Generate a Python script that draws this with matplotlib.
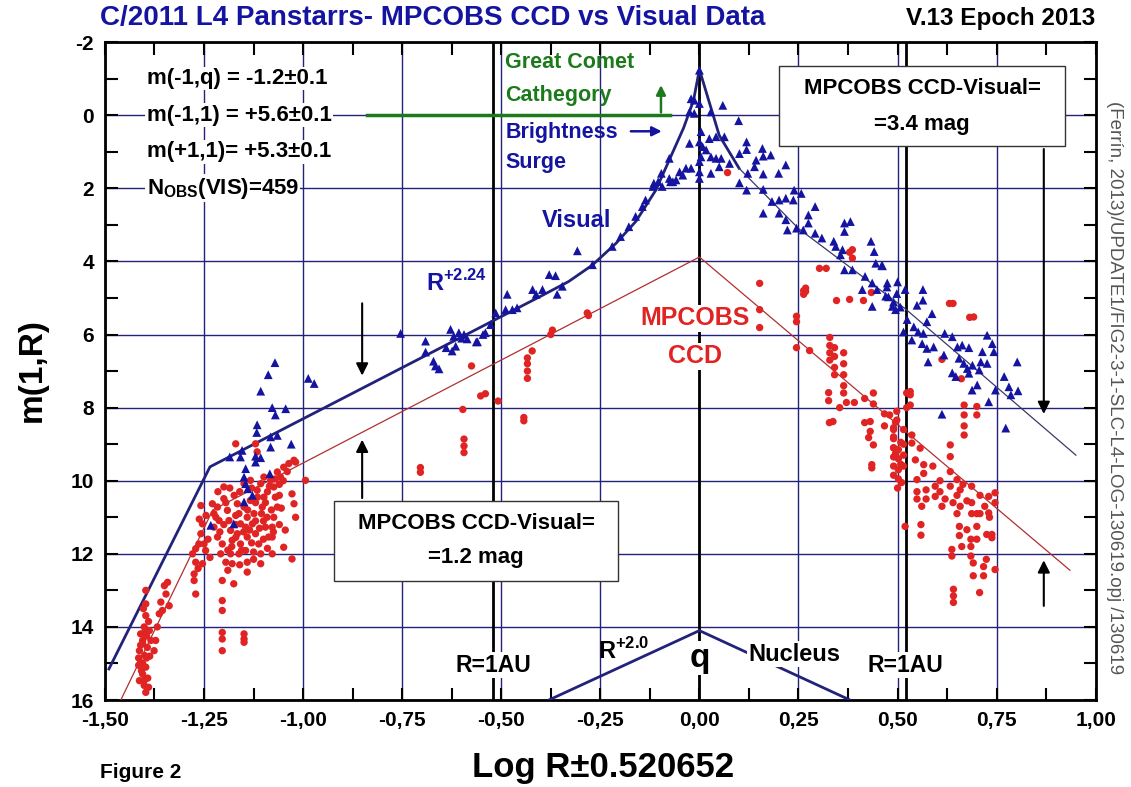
import matplotlib.pyplot as plt
from matplotlib.patches import Rectangle
from matplotlib.ticker import FuncFormatter, MultipleLocator

plt.rcParams['font.family'] = ['Liberation Sans', 'DejaVu Sans']
plt.rcParams['axes.unicode_minus'] = False

# Visual magnitudes (blue triangles), (log R, m)
vis_left = [(-1.107, 7.55), (-1.078, 8.0), (-1.044, 8.03), (-1.07, 8.2), (-1.116, 8.47),
            (-1.117, 8.68), (-1.082, 8.8), (-1.065, 8.76), (-1.082, 9.08), (-1.03, 9.0),
            (-1.185, 9.35), (-1.154, 9.17), (-1.158, 9.35), (-1.12, 9.33), (-1.107, 9.37),
            (-1.12, 9.49), (-1.145, 9.67), (-1.149, 9.9), (-1.145, 10.08), (-1.14, 10.22),
            (-1.128, 10.4), (-1.149, 10.58), (-1.084, 9.81), (-1.233, 11.22), (-1.175, 11.18),
            (-1.071, 6.77), (-1.088, 7.1), (-0.987, 7.2), (-0.972, 7.34)]
vis_mid = [(-0.754, 5.97), (-0.691, 6.18), (-0.691, 6.48), (-0.671, 6.73), (-0.666, 6.86),
           (-0.657, 6.94), (-0.628, 5.86), (-0.62, 6.05), (-0.607, 5.95), (-0.594, 6.0),
           (-0.586, 6.12), (-0.615, 6.32), (-0.624, 6.45), (-0.56, 6.2), (-0.54, 5.95),
           (-0.527, 5.73), (-0.514, 5.41), (-0.489, 5.32), (-0.472, 5.32), (-0.46, 5.27),
           (-0.485, 4.9), (-0.421, 4.77), (-0.412, 4.9), (-0.396, 4.77), (-0.379, 4.36),
           (-0.363, 4.39), (-0.346, 4.68), (-0.359, 4.9), (-0.308, 3.71), (-0.27, 4.09),
           (-0.639, 6.36), (-0.600, 6.1), (-0.546, 6.0), (-0.563, 6.2)]
vis_peak = [(-0.22, 3.59), (-0.199, 3.32), (-0.178, 3.05), (-0.161, 2.77), (-0.144, 2.5),
            (-0.136, 2.32), (-0.115, 1.86), (-0.094, 1.95), (-0.073, 1.82), (-0.117, 1.95),
            (-0.104, 1.82), (-0.096, 1.59), (-0.076, 1.18), (-0.076, 1.73), (-0.067, 1.82),
            (-0.059, 1.77), (-0.05, 1.55), (-0.042, 1.64), (-0.034, 1.45), (-0.021, 1.45),
            (0.0, -1.23), (-0.021, -0.45), (-0.013, -0.41), (0.0, -0.32), (-0.025, -0.09),
            (-0.013, -0.05), (0.029, -0.09), (0.059, -0.27), (0.099, 0.15), (0.004, 0.45),
            (0.025, 0.64), (0.042, 0.59), (0.063, 0.59), (-0.025, 0.77), (0.0, 0.73),
            (0.008, 0.86), (0.017, 0.95), (0.029, 1.14), (0.042, 1.18), (0.055, 1.18),
            (0.004, 1.14), (0.0, 1.27), (0.05, 1.41), (0.029, 1.59), (0.076, 1.32),
            (0.0, 1.73), (0.0, 1.55)]
vis_right = [(0.101, 1.05), (0.119, 0.73), (0.119, 0.94), (0.143, 1.23), (0.159, 0.91),
             (0.18, 1.09), (0.161, 1.12), (0.139, 1.41), (0.161, 1.61), (0.218, 1.36),
             (0.2, 1.59), (0.122, 1.59), (0.101, 1.85), (0.119, 2.05), (0.161, 2.03),
             (0.183, 2.36), (0.201, 2.32), (0.218, 2.27), (0.237, 2.32), (0.239, 2.05),
             (0.257, 2.14), (0.161, 2.68), (0.201, 2.68), (0.218, 2.86), (0.222, 3.14),
             (0.245, 3.09), (0.262, 3.14), (0.275, 2.95), (0.292, 2.5), (0.275, 2.73),
             (0.292, 3.23), (0.309, 3.36), (0.339, 3.45), (0.344, 3.59), (0.361, 3.68),
             (0.366, 2.95), (0.381, 2.91), (0.366, 3.18), (0.356, 3.82), (0.366, 4.23),
             (0.386, 4.23), (0.433, 3.45), (0.441, 3.73), (0.445, 4.05), (0.462, 4.12),
             (0.418, 4.41), (0.436, 4.59), (0.448, 4.77), (0.47, 4.95), (0.487, 5.23),
             (0.495, 5.32), (0.436, 5.23), (0.411, 4.77), (0.474, 4.59)]
vis_tail = [(0.46, 4.11), (0.5, 4.56), (0.473, 4.7), (0.477, 4.97), (0.498, 4.88),
            (0.49, 5.11), (0.507, 5.25), (0.519, 4.77), (0.564, 4.77), (0.564, 5.06),
            (0.549, 5.2), (0.587, 5.43), (0.524, 5.59), (0.515, 5.93), (0.541, 5.79),
            (0.552, 5.93), (0.565, 5.97), (0.574, 5.65), (0.536, 6.15), (0.562, 6.25),
            (0.574, 6.38), (0.591, 6.34), (0.619, 5.97), (0.638, 6.06), (0.577, 6.75),
            (0.617, 6.56), (0.651, 6.34), (0.663, 6.29), (0.68, 6.36), (0.655, 6.65),
            (0.667, 6.79), (0.676, 6.93), (0.638, 7.05), (0.647, 7.15), (0.68, 7.06),
            (0.689, 6.84), (0.706, 6.97), (0.71, 6.75), (0.714, 6.47), (0.726, 6.02),
            (0.739, 6.25), (0.743, 6.47), (0.726, 6.79), (0.688, 7.52), (0.701, 7.38),
            (0.747, 7.52), (0.73, 7.84), (0.769, 7.15), (0.781, 7.43), (0.786, 7.65),
            (0.804, 7.54), (0.802, 6.75), (0.612, 8.18), (0.773, 8.56)]

# MPCOBS CCD magnitudes (red dots), (log R, m)
ccd_far = [(-1.397, 13.0), (-1.397, 13.37), (-1.397, 13.69), (-1.401, 14.0), (-1.41, 14.19),
           (-1.405, 14.37), (-1.393, 14.56), (-1.413, 14.65), (-1.40, 14.78), (-1.41, 14.97),
           (-1.397, 15.1), (-1.405, 15.29), (-1.413, 15.47), (-1.401, 15.6), (-1.397, 15.79),
           (-1.388, 14.1), (-1.384, 14.37), (-1.376, 14.65), (-1.372, 14.37), (-1.368, 14.0),
           (-1.363, 13.64), (-1.359, 13.32), (-1.355, 13.55), (-1.346, 13.1), (-1.342, 12.78),
           (-1.338, 13.42), (-1.35, 12.87), (-1.405, 14.45), (-1.395, 14.85), (-1.408, 15.2),
           (-1.392, 15.4), (-1.39, 13.85), (-1.403, 13.5), (-1.415, 14.85), (-1.405, 15.0),
           (-1.395, 14.25), (-1.41, 14.5), (-1.4, 15.45), (-1.39, 15.65), (-1.415, 15.05),
           (-1.398, 14.1), (-1.387, 14.8)]
ccd_cluster = [(-1.279, 12.0), (-1.271, 12.23), (-1.275, 12.55), (-1.275, 12.73), (-1.271, 13.1),
               (-1.263, 11.73), (-1.258, 11.45), (-1.254, 11.18), (-1.25, 11.73), (-1.246, 11.91),
               (-1.254, 12.27), (-1.258, 10.68), (-1.271, 11.86),
               (-1.229, 10.63), (-1.216, 10.72), (-1.225, 10.9), (-1.212, 11.09), (-1.225, 11.27),
               (-1.216, 11.54), (-1.204, 11.73), (-1.208, 12.0), (-1.2, 10.49), (-1.191, 10.81),
               (-1.187, 11.09), (-1.183, 11.36), (-1.179, 11.63), (-1.183, 12.0), (-1.179, 12.27),
               (-1.195, 12.23), (-1.174, 10.4), (-1.166, 10.63), (-1.162, 10.9), (-1.158, 11.18),
               (-1.166, 11.45), (-1.158, 11.73), (-1.162, 12.0), (-1.149, 10.72), (-1.141, 11.0),
               (-1.145, 11.27), (-1.141, 11.54), (-1.145, 11.91), (-1.141, 12.23), (-1.141, 12.5),
               (-1.133, 10.54), (-1.124, 10.9), (-1.128, 11.18), (-1.12, 11.45), (-1.112, 11.73),
               (-1.107, 12.0), (-1.107, 12.27), (-1.116, 10.26), (-1.107, 10.08), (-1.099, 10.45),
               (-1.103, 10.72), (-1.091, 11.0), (-1.095, 11.27), (-1.087, 11.54), (-1.099, 9.9),
               (-1.082, 9.99), (-1.074, 10.17), (-1.07, 10.45), (-1.065, 10.72), (-1.074, 11.0),
               (-1.078, 11.27), (-1.078, 11.54), (-1.078, 12.0), (-1.065, 9.76), (-1.049, 9.63),
               (-1.057, 9.9), (-1.036, 9.53), (-1.023, 9.44), (-1.019, 9.49), (-1.028, 10.36),
               (-1.023, 10.63), (-1.019, 11.0), (-1.028, 12.14), (-0.994, 9.99), (-1.17, 8.99),
               (-1.12, 8.99), (-1.116, 9.21), (-1.204, 12.73), (-1.175, 12.82), (-1.204, 13.28),
               (-1.204, 13.55), (-1.204, 14.15), (-1.204, 14.33), (-1.204, 14.65), (-1.149, 14.19),
               (-1.149, 14.33), (-1.149, 14.42), (-1.2, 10.17), (-1.133, 9.99), (-1.149, 10.08),
               (-1.049, 11.82), (-1.215, 10.3), (-1.19, 11.9), (-1.13, 11.7), (-1.1, 11.1),
               (-1.17, 10.95), (-1.12, 10.6), (-1.09, 10.3), (-1.06, 10.1),
               (-1.22, 11.0), (-1.21, 11.4), (-1.2, 11.2), (-1.195, 10.6), (-1.185, 10.2),
               (-1.18, 11.8), (-1.17, 11.2), (-1.17, 11.55), (-1.16, 10.3), (-1.155, 11.9),
               (-1.15, 11.4), (-1.14, 10.8), (-1.135, 11.35), (-1.13, 10.2), (-1.125, 11.95),
               (-1.12, 11.1), (-1.115, 10.45), (-1.11, 11.3), (-1.105, 10.9), (-1.1, 11.6),
               (-1.095, 10.6), (-1.09, 11.85), (-1.085, 10.15), (-1.08, 10.8), (-1.075, 11.4),
               (-1.07, 9.95), (-1.06, 10.4), (-1.06, 11.2), (-1.055, 10.75), (-1.05, 10.0),
               (-1.045, 11.35), (-1.04, 9.75), (-1.24, 11.6), (-1.235, 12.1), (-1.265, 12.4),
               (-1.262, 11.05), (-1.245, 10.95), (-1.19, 12.45), (-1.16, 12.3), (-1.125, 12.15)]
ccd_mid = [(-0.704, 9.64), (-0.704, 9.77), (-0.597, 8.05), (-0.594, 8.86), (-0.594, 9.05),
           (-0.594, 9.23), (-0.575, 6.86), (-0.552, 7.68), (-0.54, 7.62), (-0.508, 7.82),
           (-0.443, 8.27), (-0.443, 8.36), (-0.434, 6.64), (-0.434, 6.8), (-0.434, 7.0),
           (-0.434, 7.2), (-0.422, 6.45), (-0.375, 6.0), (-0.371, 5.88), (-0.283, 5.41),
           (-0.28, 5.48), (0.071, 1.57)]
ccd_post = [(0.152, 4.6), (0.152, 5.32), (0.152, 5.81), (0.245, 5.5), (0.245, 5.65),
            (0.245, 6.36), (0.263, 4.8), (0.263, 4.9), (0.278, 6.44), (0.303, 4.19),
            (0.32, 4.19), (0.329, 6.08), (0.329, 6.3), (0.329, 6.5), (0.329, 6.7),
            (0.341, 6.36), (0.341, 6.6), (0.341, 6.9), (0.341, 7.1), (0.364, 6.5),
            (0.364, 6.8), (0.364, 7.1), (0.364, 7.4), (0.364, 7.6), (0.346, 5.07),
            (0.379, 5.04), (0.379, 3.75), (0.414, 5.07), (0.326, 7.59), (0.326, 7.81),
            (0.354, 8.0), (0.371, 7.86), (0.391, 7.86), (0.328, 8.41), (0.417, 7.75),
            (0.439, 7.6), (0.439, 7.9), (0.427, 8.82), (0.417, 8.41), (0.434, 4.85),
            (0.631, 5.15), (0.682, 5.53), (0.467, 8.17), (0.467, 8.5), (0.49, 8.55),
            (0.49, 8.8), (0.49, 9.1), (0.523, 7.6), (0.523, 8.0), (0.386, 3.68),
            (0.386, 3.91), (0.268, 4.73), (0.268, 4.82), (0.612, 6.68), (0.661, 7.21)]
ccd_tail = [(0.48, 8.2), (0.498, 8.1), (0.498, 8.34), (0.49, 8.6), (0.49, 8.85),
            (0.49, 9.1), (0.49, 9.35), (0.49, 9.6), (0.49, 9.85), (0.502, 9.15),
            (0.502, 9.4), (0.502, 9.7), (0.502, 9.95), (0.5, 10.2), (0.515, 8.6),
            (0.515, 9.0), (0.515, 9.3), (0.515, 9.6), (0.532, 7.56), (0.532, 7.65),
            (0.532, 7.93), (0.536, 8.75), (0.536, 8.97), (0.557, 9.11), (0.545, 9.43),
            (0.566, 9.56), (0.566, 9.8), (0.549, 9.97), (0.549, 10.3), (0.549, 10.5),
            (0.572, 10.25), (0.572, 10.5), (0.561, 10.7), (0.519, 11.25), (0.559, 11.2),
            (0.559, 11.49), (0.589, 9.6), (0.595, 10.15), (0.595, 10.43), (0.612, 10.7),
            (0.607, 10.0), (0.607, 10.3), (0.633, 9.02), (0.633, 9.34), (0.633, 9.75),
            (0.633, 10.15), (0.65, 9.97), (0.65, 10.4), (0.65, 10.9), (0.658, 10.25),
            (0.658, 10.7), (0.656, 11.25), (0.656, 11.5), (0.637, 11.88), (0.637, 12.06),
            (0.662, 11.8), (0.641, 12.97), (0.641, 13.15), (0.641, 13.33), (0.675, 11.34),
            (0.687, 10.15), (0.687, 10.6), (0.687, 10.9), (0.685, 11.6), (0.685, 11.8),
            (0.685, 12.06), (0.691, 12.25), (0.691, 12.6), (0.7, 10.9), (0.7, 11.25),
            (0.7, 11.6), (0.708, 10.4), (0.708, 10.9), (0.707, 13.06), (0.717, 12.35),
            (0.717, 12.6), (0.724, 12.15), (0.725, 11.47), (0.73, 10.43), (0.73, 10.88),
            (0.732, 11.0), (0.738, 11.47), (0.738, 11.56), (0.746, 10.33), (0.746, 10.6),
            (0.746, 12.43), (0.668, 7.93), (0.668, 8.2), (0.668, 8.5), (0.668, 8.75),
            (0.7, 7.97), (0.7, 8.2), (0.64, 5.15), (0.692, 5.52), (0.337, 8.38),
            (0.431, 8.38), (0.431, 8.65), (0.439, 9.02), (0.435, 9.56), (0.435, 9.65),
            (0.495, 8.4), (0.495, 9.25), (0.508, 8.95), (0.508, 9.55), (0.51, 10.05),
            (0.62, 10.5), (0.64, 10.6), (0.665, 10.1), (0.675, 10.55), (0.72, 10.7)]

# fitted envelopes
vis_fit_x = [-1.49, -1.235, -0.52, -0.40, -0.33, -0.27, -0.21, -0.16, -0.11, -0.075, -0.04, -0.015, 0.0, 0.025, 0.05, 0.10]
vis_fit_y = [15.15, 9.62, 5.62, 4.95, 4.55, 4.1, 3.5, 2.9, 2.05, 1.2, 0.35, -0.4, -1.25, -0.35, 0.55, 1.45]
vis_tail_x = [0.10, 0.25, 0.52, 0.95]
vis_tail_y = [1.45, 3.1, 5.3, 9.3]
ccd_fit_x = [-1.46, -1.228, 0.0, 0.935]
ccd_fit_y = [16.0, 10.8, 3.88, 12.45]
nuc_x = [-0.38, 0.0, 0.38]
nuc_y = [16.0, 14.1, 16.0]

x_ticks = [-1.5, -1.25, -1.0, -0.75, -0.5, -0.25, 0.0, 0.25, 0.5, 0.75, 1.0]
y_ticks = [-2, 0, 2, 4, 6, 8, 10, 12, 14, 16]
r_1au = 0.520652

BLUE = '#1414a0'
NAVY = '#22227a'
RED = '#e02424'
GREEN = '#1c7a1c'

fig = plt.figure(figsize=(11.31, 7.87), dpi=100)
ax = fig.add_axes([0.0928, 0.1105, 0.876, 0.836])
ax.set_xlim(-1.5, 1.0)
ax.set_ylim(16, -2)

ax.set_xticks(x_ticks)
ax.set_yticks(y_ticks)
ax.xaxis.set_minor_locator(MultipleLocator(0.125))
ax.yaxis.set_minor_locator(MultipleLocator(1))
ax.xaxis.set_major_formatter(FuncFormatter(lambda v, p: f"{v:.2f}".replace('.', ',')))
ax.grid(which='major', color=NAVY, lw=1.0)
ax.set_axisbelow(True)
ax.tick_params(which='both', direction='in', top=True, right=True, length=9, width=1.5)
ax.tick_params(axis='x', labelsize=15, pad=8)
ax.tick_params(axis='y', labelsize=15, pad=8)
for lab in ax.get_xticklabels() + ax.get_yticklabels():
    lab.set_fontweight('bold')
for s in ax.spines.values():
    s.set_linewidth(2)

# vertical reference lines: perihelion and R = 1 AU
for xv in [-r_1au, 0.0, r_1au]:
    ax.axvline(xv, color='black', lw=2, zorder=2)

ax.plot(ccd_fit_x, ccd_fit_y, color='#b03030', lw=0.9, zorder=3)
ax.plot(vis_fit_x, vis_fit_y, color=NAVY, lw=2, zorder=3)
ax.plot(vis_tail_x, vis_tail_y, color='#3a3a6a', lw=0.9, zorder=3)
ax.plot(nuc_x, nuc_y, color=NAVY, lw=2, zorder=3)

for grp in [ccd_far, ccd_cluster, ccd_mid, ccd_post, ccd_tail]:
    ax.scatter([p[0] for p in grp], [p[1] for p in grp], s=28, marker='o',
               color=RED, edgecolors='none', zorder=4)
for grp in [vis_left, vis_mid, vis_peak, vis_right, vis_tail]:
    ax.scatter([p[0] for p in grp], [p[1] for p in grp], s=40, marker='^',
               color=BLUE, edgecolors='none', zorder=5)

wbox = dict(fc='white', ec='none', pad=1)

# parameter block
params = ["m(-1,q) = -1.2±0.1", "m(-1,1) = +5.6±0.1", "m(+1,1)= +5.3±0.1",
          r"N$_{\mathregular{OBS}}$(VIS)=459"]
for i, t in enumerate(params):
    ax.text(-1.395, -1.0 + i, t, fontsize=16, fontweight='bold', va='center',
            ha='left', bbox=wbox, zorder=6)

# great comet category marker
ax.plot([-0.84, -0.075], [0, 0], color=GREEN, lw=2.5, zorder=6)
ax.annotate('', xy=(-0.097, -0.9), xytext=(-0.097, 0.0),
            arrowprops=dict(arrowstyle='-|>', color=GREEN, lw=1.8, mutation_scale=14),
            zorder=6)
ax.text(-0.49, -1.45, "Great Comet", color=GREEN, fontsize=15.5, fontweight='bold', va='center', zorder=6)
ax.text(-0.49, -0.55, "Cathegory", color=GREEN, fontsize=15.5, fontweight='bold', va='center', zorder=6)
ax.text(-0.49, 0.48, "Brightness", color=BLUE, fontsize=15.5, fontweight='bold', va='center', zorder=6)
ax.text(-0.49, 1.3, "Surge", color=BLUE, fontsize=15.5, fontweight='bold', va='center', zorder=6)
ax.annotate('', xy=(-0.088, 0.44), xytext=(-0.18, 0.44),
            arrowprops=dict(arrowstyle='-|>', color=BLUE, lw=1.8, mutation_scale=14), zorder=6)

ax.text(-0.31, 2.88, "Visual", color=BLUE, fontsize=17, fontweight='bold', ha='center', va='center', zorder=6)
ax.text(-0.69, 4.58, r"R$^{\mathregular{+2.24}}$", color=BLUE, fontsize=17, fontweight='bold',
        va='center', zorder=6)
ax.text(-0.01, 5.56, "MPCOBS", color=RED, fontsize=18, fontweight='bold', ha='center',
        va='center', bbox=wbox, zorder=6)
ax.text(-0.01, 6.6, "CCD", color=RED, fontsize=18, fontweight='bold', ha='center',
        va='center', bbox=wbox, zorder=6)

# offset boxes
ax.add_patch(Rectangle((0.202, -1.34), 0.72, 2.19, fc='white', ec='#333333', lw=1, zorder=7))
ax.text(0.562, -0.72, "MPCOBS CCD-Visual=", fontsize=16, fontweight='bold', ha='center', va='center', zorder=8)
ax.text(0.562, 0.25, "=3.4 mag", fontsize=16, fontweight='bold', ha='center', va='center', zorder=8)
ax.add_patch(Rectangle((-0.922, 10.55), 0.717, 2.19, fc='white', ec='#333333', lw=1, zorder=7))
ax.text(-0.563, 11.18, "MPCOBS CCD-Visual=", fontsize=16, fontweight='bold', ha='center', va='center', zorder=8)
ax.text(-0.563, 12.1, "=1.2 mag", fontsize=16, fontweight='bold', ha='center', va='center', zorder=8)

arrow_k = dict(arrowstyle='-|>', color='black', lw=1.5, mutation_scale=18)
ax.annotate('', xy=(-0.851, 7.2), xytext=(-0.851, 5.07), arrowprops=arrow_k, zorder=6)
ax.annotate('', xy=(-0.851, 8.8), xytext=(-0.851, 10.55), arrowprops=arrow_k, zorder=6)
ax.annotate('', xy=(0.869, 8.25), xytext=(0.869, 0.85), arrowprops=arrow_k, zorder=6)
ax.annotate('', xy=(0.869, 12.1), xytext=(0.869, 13.5), arrowprops=arrow_k, zorder=6)

# bottom labels
ax.text(-r_1au, 15.05, "R=1AU", fontsize=16.5, fontweight='bold', ha='center', va='center', bbox=wbox, zorder=6)
ax.text(r_1au, 15.05, "R=1AU", fontsize=16.5, fontweight='bold', ha='center', va='center', bbox=wbox, zorder=6)
ax.text(0.0, 14.85, "q", fontsize=24, fontweight='bold', ha='center', va='center', bbox=wbox, zorder=6)
ax.text(0.24, 14.75, "Nucleus", fontsize=17, fontweight='bold', ha='center', va='center', bbox=wbox, zorder=6)
ax.text(-0.255, 14.65, r"R$^{\mathregular{+2.0}}$", fontsize=17, fontweight='bold', va='center', zorder=6)

fig.text(100 / 1131, 1 - 18 / 787, "C/2011 L4 Panstarrs- MPCOBS CCD vs Visual Data", color=BLUE,
         fontsize=20, fontweight='bold', va='center', ha='left')
fig.text(1095 / 1131, 1 - 18 / 787, "V.13 Epoch 2013", fontsize=17.5, fontweight='bold', va='center', ha='right')
fig.text(32 / 1131, 1 - 370 / 787, "m(1,R)", fontsize=24, fontweight='bold', rotation=90, va='center', ha='center')
fig.text(603 / 1131, 1 - 768 / 787, "Log R±0.520652", fontsize=25, fontweight='bold',
         va='center', ha='center')
fig.text(100 / 1131, 1 - 772 / 787, "Figure 2", fontsize=15, fontweight='bold',
         va='center', ha='left')
fig.text(1115 / 1131, 1 - 388 / 787, "(Ferrín, 2013)/UPDATE1/FIG2-3-1-SLC-L4-LOG-130619.opj /130619",
         fontsize=13.5, color='#555555', rotation=270, va='center', ha='center')

fig.savefig('out.png', dpi=100)
